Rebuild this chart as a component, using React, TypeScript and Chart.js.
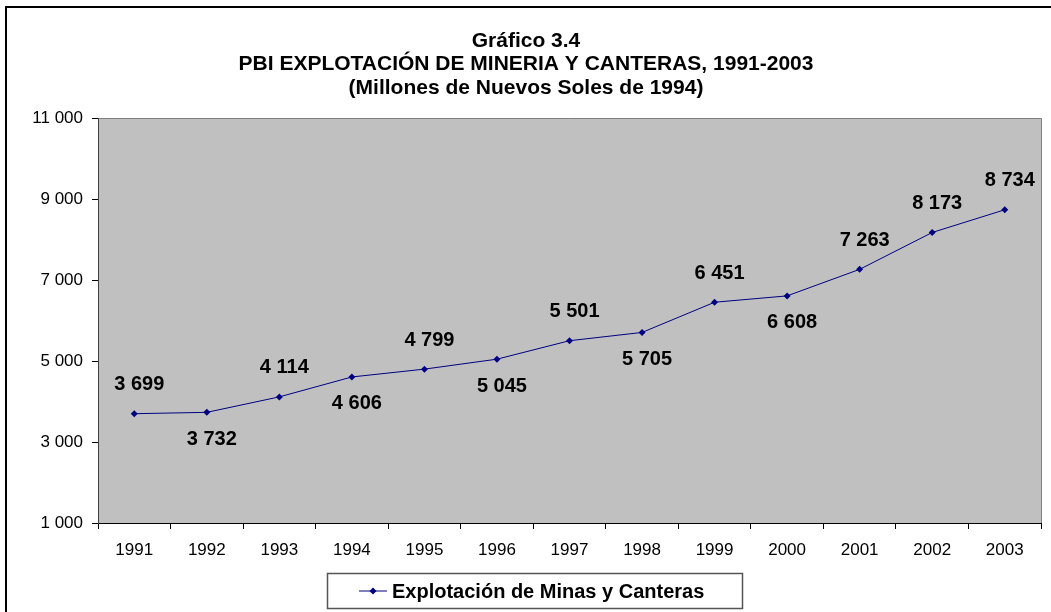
import React, { useEffect, useRef } from "react";
import { Chart, registerables } from "chart.js";

Chart.register(...registerables);

const years = ["1991", "1992", "1993", "1994", "1995", "1996", "1997", "1998", "1999", "2000", "2001", "2002", "2003"];
const pbiValues = [3699, 3732, 4114, 4606, 4799, 5045, 5501, 5705, 6451, 6608, 7263, 8173, 8734];
const labelSide = ["up", "down", "up", "down", "up", "down", "up", "down", "up", "down", "up", "up", "up"];
const titleLines = [
  "Gráfico 3.4",
  "PBI EXPLOTACIÓN DE MINERIA Y CANTERAS, 1991-2003",
  "(Millones de Nuevos Soles de 1994)",
];
const seriesName = "Explotación de Minas y Canteras";

const fmt = (v: number) => {
  const s = Math.round(v).toString();
  return s.replace(/\B(?=(\d{3})+(?!\d))/g, " ");
};

const FONT = "Arial, 'Liberation Sans', sans-serif";

const decorPlugin = {
  id: "decor",
  beforeDraw(chart: any) {
    const { ctx, chartArea } = chart;
    ctx.save();
    ctx.fillStyle = "#ffffff";
    ctx.fillRect(0, 0, chart.width, chart.height);
    ctx.fillStyle = "#C0C0C0";
    ctx.fillRect(chartArea.left, chartArea.top, chartArea.right - chartArea.left, chartArea.bottom - chartArea.top);
    ctx.strokeStyle = "#808080";
    ctx.lineWidth = 1;
    ctx.beginPath();
    ctx.moveTo(chartArea.left, chartArea.top + 0.5);
    ctx.lineTo(chartArea.right + 0.5, chartArea.top + 0.5);
    ctx.lineTo(chartArea.right + 0.5, chartArea.bottom);
    ctx.stroke();
    ctx.restore();
  },
  afterDraw(chart: any) {
    const { ctx } = chart;
    ctx.save();
    // outer border
    ctx.strokeStyle = "#000000";
    ctx.lineWidth = 2;
    ctx.beginPath();
    ctx.moveTo(6, chart.height + 5);
    ctx.lineTo(6, 7);
    ctx.lineTo(chart.width + 5, 7);
    ctx.stroke();

    // title
    ctx.fillStyle = "#000000";
    ctx.textAlign = "center";
    ctx.textBaseline = "middle";
    ctx.font = `bold 21px ${FONT}`;
    const cx = 526;
    titleLines.forEach((t, i) => ctx.fillText(t, cx, 41 + i * 23.5));

    // data labels
    const meta = chart.getDatasetMeta(0);
    ctx.font = `bold 20px ${FONT}`;
    meta.data.forEach((pt: any, i: number) => {
      const dy = labelSide[i] === "up" ? -29 : 27;
      ctx.fillText(fmt(pbiValues[i]), pt.x + 5, pt.y + dy);
    });

    // legend
    const lx = 327, ly = 573, lw = 415, lh = 35;
    ctx.strokeStyle = "#555555";
    ctx.lineWidth = 1.5;
    ctx.strokeRect(lx + 0.5, ly + 0.5, lw, lh);
    const my = ly + lh / 2 + 0.5;
    ctx.strokeStyle = "#000080";
    ctx.lineWidth = 1;
    ctx.beginPath();
    ctx.moveTo(359, my);
    ctx.lineTo(387, my);
    ctx.stroke();
    ctx.fillStyle = "#000080";
    ctx.beginPath();
    ctx.moveTo(373, my - 3.5);
    ctx.lineTo(376.5, my);
    ctx.lineTo(373, my + 3.5);
    ctx.lineTo(369.5, my);
    ctx.closePath();
    ctx.fill();
    ctx.fillStyle = "#000000";
    ctx.textAlign = "left";
    ctx.font = `bold 20px ${FONT}`;
    ctx.fillText(seriesName, 392, my + 1);
    ctx.restore();
  },
};

export default function App() {
  const ref = useRef<HTMLCanvasElement | null>(null);
  useEffect(() => {
    document.body.style.margin = "0";
    const canvas = ref.current;
    if (!canvas) return;
    const chart = new Chart(canvas, {
      type: "line",
      data: {
        labels: years,
        datasets: [
          {
            label: seriesName,
            data: pbiValues,
            borderColor: "#000080",
            backgroundColor: "#000080",
            borderWidth: 1,
            pointStyle: "rectRot",
            pointRadius: 3.5,
            pointBorderWidth: 0,
            pointBackgroundColor: "#000080",
            tension: 0,
          },
        ],
      },
      options: {
        animation: false,
        responsive: false,
        devicePixelRatio: 1,
        layout: { padding: { left: 0, right: 10, top: 118, bottom: 0 } },
        plugins: {
          legend: { display: false },
          title: { display: false },
          tooltip: { enabled: false },
        },
        scales: {
          x: {
            offset: true,
            grid: {
              offset: true,
              drawOnChartArea: false,
              drawTicks: true,
              tickLength: 6,
              color: "#000000",
            },
            border: { color: "#000000", width: 1 },
            ticks: {
              color: "#000000",
              font: { family: FONT, size: 17 },
              padding: 11,
              maxRotation: 0,
            },
            afterFit(scale: any) {
              scale.height = 89;
            },
          },
          y: {
            min: 1000,
            max: 11000,
            grid: {
              drawOnChartArea: false,
              drawTicks: true,
              tickLength: 6,
              color: "#000000",
            },
            border: { color: "#404040", width: 1 },
            ticks: {
              stepSize: 2000,
              color: "#000000",
              font: { family: FONT, size: 17 },
              padding: 9,
              callback: (v: any) => fmt(Number(v)),
            },
            afterFit(scale: any) {
              scale.width = 98;
            },
          },
        },
      },
      plugins: [decorPlugin],
    });
    return () => chart.destroy();
  }, []);
  return <canvas ref={ref} width={1051} height={612} style={{ display: "block" }} />;
}
